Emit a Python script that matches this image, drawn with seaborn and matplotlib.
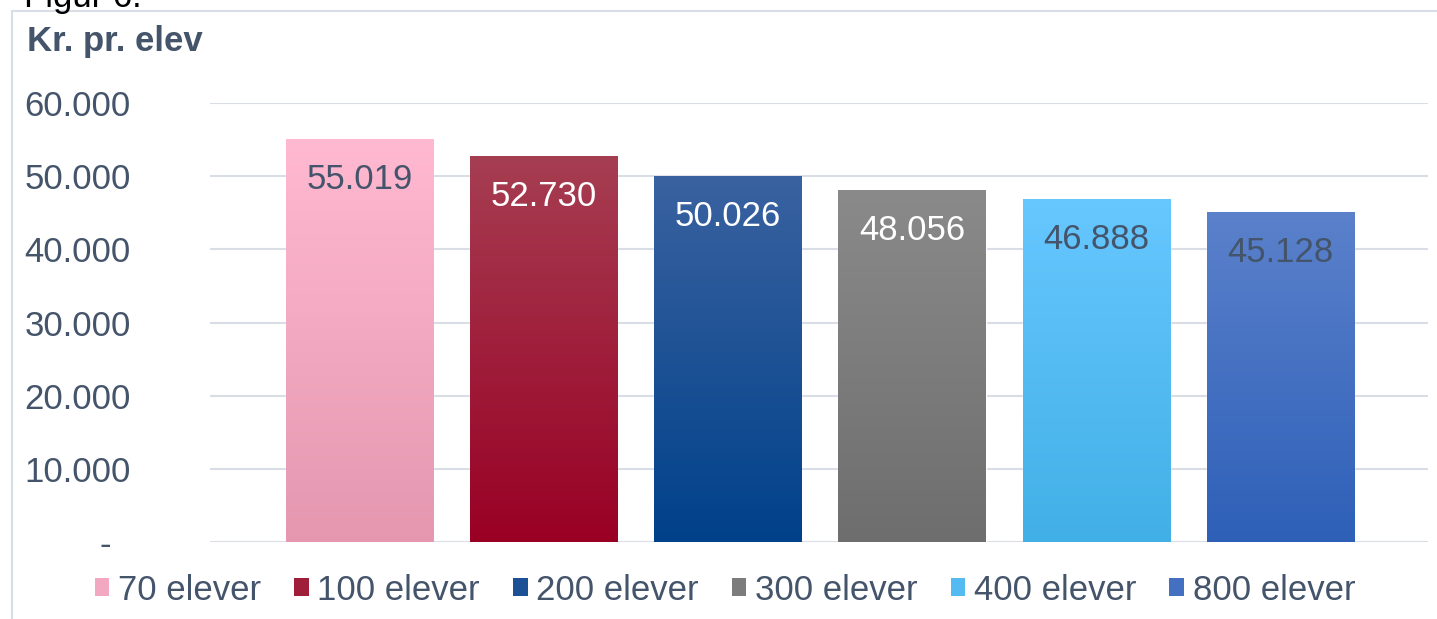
import numpy as np
import pandas as pd
import seaborn as sns
import matplotlib.pyplot as plt
from matplotlib.colors import LinearSegmentedColormap
from matplotlib.patches import Patch, Rectangle

categories = ["70 elever", "100 elever", "200 elever", "300 elever", "400 elever", "800 elever"]
values = [55019, 52730, 50026, 48056, 46888, 45128]
top_colors = ["#FFB9D1", "#A63E52", "#3A62A0", "#8A8A8A", "#67C7FF", "#5B81CB"]
bottom_colors = ["#E597B0", "#990024", "#00418A", "#6E6E6E", "#41B0E6", "#2E60B8"]
label_colors = ["#44546A", "white", "white", "white", "#44546A", "#44546A"]
yticks = [0, 10000, 20000, 30000, 40000, 50000, 60000]

txt = "#44546A"
fs = 25
sns.set_theme(style="white")
plt.rcParams['font.family'] = ['Liberation Sans', 'DejaVu Sans']

df = pd.DataFrame({"Kategori": categories, "Kr": values})

fig = plt.figure(figsize=(14.37, 6.19), dpi=100)
ax = fig.add_axes([210 / 1437, 1 - 542 / 619, 1218 / 1437, 439 / 619])

mid = [sns.blend_palette([t, b], 3)[1] for t, b in zip(top_colors, bottom_colors)]
sns.barplot(data=df, x="Kategori", y="Kr", hue="Kategori", palette=mid,
            width=0.8, legend=False, ax=ax, zorder=2)

# gradient fill of the bars
for p, t, b in zip(ax.patches, top_colors, bottom_colors):
    x0, y0 = p.get_x(), p.get_y()
    w, h = p.get_width(), p.get_height()
    cmap = LinearSegmentedColormap.from_list("g", [b, t])
    grad = np.linspace(0, 1, 256).reshape(-1, 1)
    im = ax.imshow(grad, cmap=cmap, origin="lower", aspect="auto",
                   extent=[x0, x0 + w, y0, y0 + h], zorder=2.5)
    im.set_clip_path(p)

ax.set_xlim(-0.81, 5.8)
ax.set_ylim(0, 60000)

for i, v in enumerate(values):
    ax.annotate(f"{v:,}".replace(",", "."), (i, v), xytext=(0, -29),
                textcoords="offset points", ha="center", va="center",
                fontsize=fs, color=label_colors[i], zorder=4)

ax.set_yticks(yticks)
ax.set_yticklabels(["-  "] + [f"{v:,}".replace(",", ".") for v in yticks[1:]])
ax.tick_params(axis="y", length=0, pad=57, labelsize=fs, labelcolor=txt)
ax.set_xticks([])
ax.set_xlabel("")
ax.set_ylabel("")
ax.grid(axis="y", color="#D9DEE6", linewidth=1.5, zorder=0)
ax.set_axisbelow(True)
for s in ax.spines.values():
    s.set_visible(False)

handles = [Patch(facecolor=c, edgecolor="none") for c in mid]
fig.legend(handles, categories, loc="center", bbox_to_anchor=(725 / 1437, 1 - 590 / 619),
           ncol=6, frameon=False, fontsize=fs, labelcolor=txt,
           handlelength=0.42, handleheight=0.42, handletextpad=0.25,
           columnspacing=0.95, borderaxespad=0)

fig.text(27 / 1437, 1 - 42 / 619, "Kr. pr. elev", fontsize=fs, fontweight="bold",
         color=txt, ha="left", va="center")
fig.text(24 / 1437, 1 - 7 / 619, "Figur 6.", fontsize=fs, color="black",
         ha="left", va="baseline")

fig.patches.append(Rectangle((12 / 1437, -0.1), 1.2, 1 - 11 / 619 + 0.1,
                             transform=fig.transFigure, fill=False,
                             edgecolor="#D9DEE6", linewidth=1.5))

fig.savefig("out.png", dpi=100)
